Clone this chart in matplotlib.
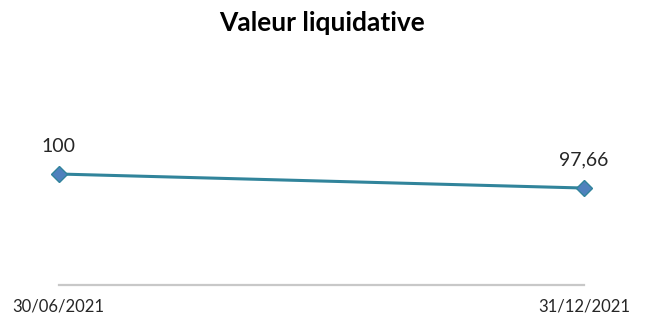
import matplotlib.pyplot as plt

dates = ["30/06/2021", "31/12/2021"]
values = [100, 97.66]
value_labels = ["100", "97,66"]

plt.rcParams['font.family'] = ['Lato', 'DejaVu Sans']

fig = plt.figure(figsize=(6.46, 3.16), dpi=100)
ax = fig.add_axes([58.5 / 646, 31 / 316, 525.5 / 646, 240 / 316])

x = list(range(len(values)))
ax.plot(x, values, color='#31849B', linewidth=2.2, marker='D', markersize=8,
        markerfacecolor='#4F81BD', markeredgecolor='#31849B', markeredgewidth=1,
        clip_on=False, zorder=3)

# data labels
for xi, v, lab in zip(x, values, value_labels):
    ax.annotate(lab, (xi, v), xytext=(0, 14), textcoords='offset points',
                ha='center', va='bottom', fontsize=14, color='#262626')

ax.set_xlim(0, 1)
ax.set_ylim(81.5, 121.5)
ax.set_xticks(x)
ax.set_xticklabels(dates, fontsize=12, color='#262626')
ax.tick_params(axis='x', length=0, pad=10)
ax.set_yticks([])

for side in ['top', 'right', 'left']:
    ax.spines[side].set_visible(False)
ax.spines['bottom'].set_color('#C8C8C8')
ax.spines['bottom'].set_linewidth(1.6)

fig.text(322 / 646, 1 - 23 / 316, "Valeur liquidative", ha='center', va='center',
         fontsize=19, fontweight='bold', color='black')

fig.savefig("out.png", dpi=100)
